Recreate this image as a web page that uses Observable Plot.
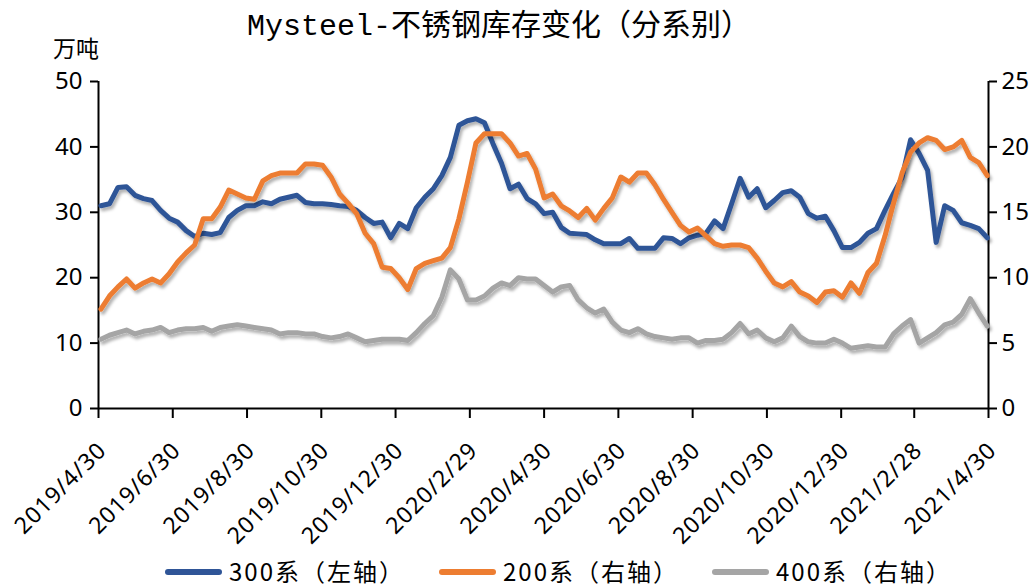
<!DOCTYPE html>
<html>
<head>
<meta charset="utf-8">
<script src="https://cdn.jsdelivr.net/npm/d3@7"></script>
<script src="https://cdn.jsdelivr.net/npm/@observablehq/plot@0.6"></script>
<style>
  body { margin:0; background:#fff; width:1036px; height:586px; position:relative; overflow:hidden;
         font-family:"Noto Sans CJK SC","Noto Sans",sans-serif; color:#000; }
  #title { position:absolute; left:0; top:0px; width:998px; text-align:center; font-size:30px;
           font-family:"Liberation Mono","Noto Sans CJK SC",monospace; white-space:nowrap; z-index:2; }
  #unit { position:absolute; left:53px; top:30px; font-size:23px; z-index:2; }
  #chart { position:absolute; left:0; top:42px; z-index:1; }
  .lg { position:absolute; top:555px; font-size:24px; letter-spacing:2px; line-height:32px; white-space:nowrap; z-index:2; }
  .sw { position:absolute; top:569px; width:57px; height:6px; border-radius:3px; z-index:2; }
</style>
</head>
<body>
<div id="chart"></div>
<div id="title">Mysteel-不锈钢库存变化（分系别）</div>
<div id="unit">万吨</div>
<div id="legend"></div>
<script>
// ---- data (weekly, Thursdays from 2019-05-02) ----
const firstWeek = "2019-05-02";
const seriesNames = ["300系（左轴）", "200系（右轴）", "400系（右轴）"];
const seriesColors = ["#2F5597", "#ED7D31", "#A5A5A5"];

// 300系, 万吨, left axis
const s300 = [
  31.0,31.3,33.8,33.9,32.6,32.1,31.8,30.3,29.1,28.5,
  27.2,26.3,26.8,26.6,26.9,29.2,30.3,31.0,31.0,31.6,
  31.3,32.0,32.3,32.6,31.5,31.3,31.3,31.2,31.0,30.9,
  30.3,29.2,28.3,28.5,26.1,28.3,27.5,30.7,32.3,33.6,
  35.6,38.4,43.3,44.0,44.3,43.7,40.5,37.5,33.6,34.3,
  32.1,31.3,29.8,30.0,27.7,26.8,26.7,26.6,25.8,25.2,
  25.2,25.2,26.0,24.5,24.5,24.5,26.1,26.0,25.2,26.1,
  26.5,26.8,28.7,27.5,31.3,35.2,32.3,33.6,30.7,31.8,
  33.0,33.3,32.3,29.8,29.1,29.4,27.2,24.6,24.6,25.4,
  26.8,27.5,30.3,32.9,35.3,41.1,39.0,36.4,25.4,31.0,
  30.3,28.4,28.0,27.5,26.1
];
// 200系, 万吨, right axis
const s200 = [
  7.6,8.6,9.3,9.9,9.2,9.6,9.9,9.6,10.3,11.2,
  11.9,12.5,14.5,14.5,15.4,16.7,16.4,16.1,16.0,17.4,
  17.8,18.0,18.0,18.0,18.7,18.7,18.6,17.7,16.4,15.7,
  14.9,13.4,12.6,10.8,10.7,10.0,9.1,10.7,11.1,11.3,
  11.5,12.3,14.5,17.3,20.3,21.0,21.0,21.0,20.3,19.3,
  19.5,18.3,16.1,16.4,15.5,15.1,14.6,15.3,14.4,15.3,
  16.1,17.7,17.3,18.0,18.0,17.1,16.0,15.0,14.0,13.5,
  13.8,13.2,12.6,12.4,12.5,12.5,12.3,11.5,10.5,9.6,
  9.3,9.7,8.9,8.6,8.1,8.9,9.0,8.5,9.6,8.8,
  10.4,11.1,13.2,15.7,18.0,19.6,20.3,20.7,20.5,19.8,
  20.0,20.5,19.2,18.8,17.8
];
// 400系, 万吨, right axis
const s400 = [
  5.3,5.6,5.8,6.0,5.7,5.9,6.0,6.2,5.8,6.0,
  6.1,6.1,6.2,5.9,6.2,6.3,6.4,6.3,6.2,6.1,
  6.0,5.7,5.8,5.8,5.7,5.7,5.5,5.4,5.5,5.7,
  5.4,5.1,5.2,5.3,5.3,5.3,5.2,5.8,6.5,7.1,
  8.5,10.6,9.9,8.3,8.3,8.6,9.2,9.6,9.4,10.0,
  9.9,9.9,9.4,8.9,9.3,9.4,8.3,7.7,7.3,7.6,
  6.6,6.0,5.8,6.1,5.7,5.5,5.4,5.3,5.4,5.4,
  5.0,5.2,5.2,5.3,5.8,6.5,5.7,6.0,5.4,5.1,
  5.4,6.3,5.5,5.1,5.0,5.0,5.3,5.0,4.6,4.7,
  4.8,4.7,4.7,5.7,6.3,6.8,5.0,5.4,5.8,6.4,
  6.6,7.2,8.4,7.3,6.3
];

const xTickLabels = ["2019/4/30","2019/6/30","2019/8/30","2019/10/30","2019/12/30","2020/2/29",
  "2020/4/30","2020/6/30","2020/8/30","2020/10/30","2020/12/30","2021/2/28","2021/4/30"];
const leftTicks = [0,10,20,30,40,50];
const rightTicks = [0,5,10,15,20,25];

// ---- build tables ----
const parseSlash = s => { const [y,m,d] = s.split("/").map(Number); return new Date(Date.UTC(y,m-1,d)); };
const start = new Date(firstWeek + "T00:00:00Z");
const dates = s300.map((_, i) => d3.utcDay.offset(start, 7*i));
const tickDates = xTickLabels.map(parseSlash);
const labelOf = new Map(tickDates.map((d,i) => [+d, xTickLabels[i]]));
const ratio = leftTicks[leftTicks.length-1] / rightTicks[rightTicks.length-1]; // right axis -> left scale

const t300 = s300.map((v,i) => ({date: dates[i], v}));
const t200 = s200.map((v,i) => ({date: dates[i], v: v*ratio}));
const t400 = s400.map((v,i) => ({date: dates[i], v: v*ratio}));
const xDomain = [tickDates[0], tickDates[tickDates.length-1]];

const svg = Plot.plot({
  width: 1036,
  height: 512,
  marginLeft: 98,
  marginRight: 48,
  marginTop: 39,
  marginBottom: 146,
  style: {fontFamily: "'Noto Sans', 'Noto Sans CJK SC', sans-serif", fontSize: "22px", color: "#000", background: "transparent"},
  x: {type: "utc", domain: xDomain, label: null},
  y: {domain: [0, 50], label: null},
  marks: [
    Plot.axisY(leftTicks, {anchor: "left", tickSize: 8, tickPadding: 8, strokeWidth: 2, label: null, fontSize: 24}),
    Plot.axisY(rightTicks.map(v => v*ratio), {anchor: "right", tickSize: 8, tickPadding: 5, strokeWidth: 2,
      tickFormat: d => String(d/ratio), label: null, fontSize: 24}),
    // tick marks only
    Plot.axisX(tickDates, {anchor: "bottom", tickSize: 10, strokeWidth: 2, tickFormat: () => "", label: null}),
    // rotated date labels only
    Plot.axisX(tickDates, {anchor: "bottom", tickSize: 0, tickPadding: 28, tickRotate: -45,
      tickFormat: d => labelOf.get(+d), label: null, fontSize: 23, dx: 4, dy: 10}),
    Plot.ruleY([0], {stroke: "#000", strokeWidth: 2}),
    Plot.ruleX(xDomain, {stroke: "#000", strokeWidth: 2}),
    Plot.line(t300, {x: "date", y: "v", stroke: seriesColors[0], strokeWidth: 5}),
    Plot.line(t200, {x: "date", y: "v", stroke: seriesColors[1], strokeWidth: 5}),
    Plot.line(t400, {x: "date", y: "v", stroke: seriesColors[2], strokeWidth: 5})
  ]
});

// slightly open letter spacing on the rotated date labels
d3.select(svg).selectAll('g[aria-label="x-axis tick label"] text').style("letter-spacing", "1px");

// soft drop shadow like the original lines
const defs = d3.select(svg).insert("defs", ":first-child");
defs.append("filter").attr("id", "sh").attr("x", "-5%").attr("y", "-10%").attr("width", "110%").attr("height", "130%")
  .append("feDropShadow").attr("dx", 2).attr("dy", 3).attr("stdDeviation", 1.6)
  .attr("flood-color", "#000").attr("flood-opacity", 0.3);
d3.select(svg).selectAll('g[aria-label="line"]').attr("filter", "url(#sh)");

document.getElementById("chart").appendChild(svg);

// ---- legend ----
const legendPos = [{sw: 165, tx: 229}, {sw: 439, tx: 503}, {sw: 712, tx: 776}];
const lg = document.getElementById("legend");
seriesNames.forEach((name, i) => {
  const sw = document.createElement("div");
  sw.className = "sw"; sw.style.left = legendPos[i].sw + "px"; sw.style.background = seriesColors[i];
  lg.appendChild(sw);
  const tx = document.createElement("div");
  tx.className = "lg"; tx.style.left = legendPos[i].tx + "px"; tx.textContent = name;
  lg.appendChild(tx);
});
</script>
</body>
</html>
